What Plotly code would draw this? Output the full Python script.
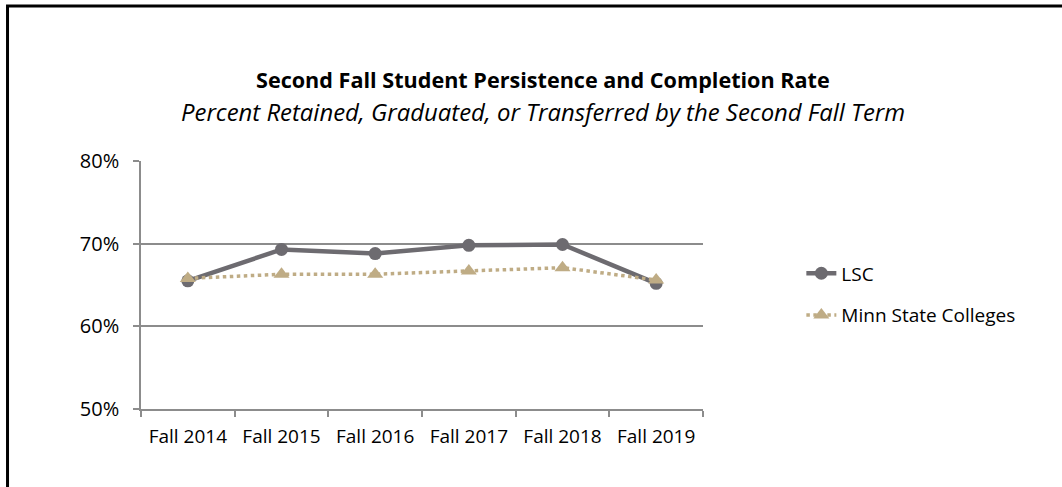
import plotly.graph_objects as go

terms = ["Fall 2014", "Fall 2015", "Fall 2016", "Fall 2017", "Fall 2018", "Fall 2019"]
lsc = [0.655, 0.693, 0.688, 0.698, 0.699, 0.652]
minn_state = [0.658, 0.663, 0.663, 0.667, 0.671, 0.656]
y_ticks = [0.5, 0.6, 0.7, 0.8]
y_tick_labels = ["50%", "60%", "70%", "80%"]

FONT = "Open Sans"

fig = go.Figure()
fig.add_trace(go.Scatter(
    x=terms, y=lsc, name="LSC", mode="lines+markers", legendgroup="lsc",
    line=dict(color="#6d6b70", width=4.5),
    marker=dict(symbol="circle", size=13, color="#6d6b70"),
))
fig.add_trace(go.Scatter(
    x=terms, y=minn_state, name="Minn State Colleges", mode="lines+markers",
    legendgroup="minn",
    line=dict(color="#bfac85", width=3.5, dash="dot"),
    marker=dict(symbol="triangle-up", size=14, color="#bfac85"),
))

# Outer frame (left and top edges visible)
fig.add_shape(type="rect", xref="paper", yref="paper",
              x0=-0.2375, x1=1.8, y0=-0.5, y1=1.625,
              line=dict(color="black", width=3), fillcolor="rgba(0,0,0,0)",
              layer="below")

fig.add_annotation(text="<b>Second Fall Student Persistence and Completion Rate</b>",
                   xref="paper", yref="paper", x=0.715, y=1.327,
                   xanchor="center", yanchor="middle",
                   showarrow=False, font=dict(family=FONT, size=21.6, color="black"))
fig.add_annotation(text="<i>Percent Retained, Graduated, or Transferred by the Second Fall Term</i>",
                   xref="paper", yref="paper", x=0.715, y=1.198,
                   xanchor="center", yanchor="middle",
                   showarrow=False, font=dict(family=FONT, size=23.9, color="black"))

fig.update_layout(
    width=1062, height=487,
    margin=dict(l=141, r=359, t=161, b=78),
    paper_bgcolor="white", plot_bgcolor="white",
    font=dict(family=FONT, size=19, color="black"),
    showlegend=True,
    legend=dict(x=1.175, y=0.462, xanchor="left", yanchor="middle",
                font=dict(family=FONT, size=19, color="black"),
                traceorder="grouped", tracegroupgap=14),
)
fig.update_xaxes(
    type="category", tickson="boundaries", ticks="outside", ticklen=6,
    tickcolor="#8c8c8c", tickwidth=1.5,
    showline=True, linecolor="#8c8c8c", linewidth=1.5,
    showgrid=False, tickfont=dict(family=FONT, size=19),
    ticklabelstandoff=9,
    range=[-0.5, 5.5],
)
fig.update_yaxes(
    range=[0.5, 0.8], tickvals=y_ticks, ticktext=y_tick_labels,
    ticks="outside", ticklen=6, tickcolor="#8c8c8c", tickwidth=1.5,
    showline=True, linecolor="#8c8c8c", linewidth=1.5,
    showgrid=True, gridcolor="#8c8c8c", gridwidth=1.5,
    zeroline=False, tickfont=dict(family=FONT, size=20),
    ticklabelstandoff=10,
)

fig.write_html("out.html")
